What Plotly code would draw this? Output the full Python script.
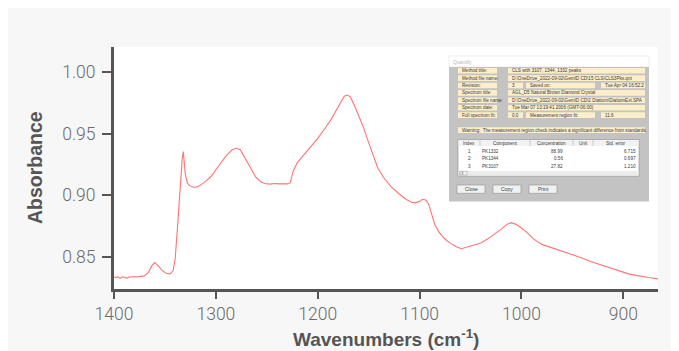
import plotly.graph_objects as go

# ---------------- data ----------------
wavenumbers = [1400, 1398, 1396, 1394, 1392, 1390, 1387, 1385, 1380, 1375, 1370, 1366, 1363, 1360,
               1357, 1353, 1349, 1345, 1342, 1340, 1338, 1336, 1334.5, 1333, 1332, 1331, 1330, 1328,
               1326, 1322, 1318, 1312, 1305, 1298, 1290, 1284, 1280, 1276, 1271, 1266, 1261, 1256,
               1252, 1247, 1242, 1238, 1234, 1230, 1227, 1224, 1220, 1215, 1208, 1200, 1192, 1187,
               1182, 1177, 1174, 1171, 1168, 1164, 1160, 1155, 1151, 1146, 1141, 1135, 1128, 1120,
               1113, 1108, 1104, 1100, 1097, 1094, 1091, 1088, 1085, 1081, 1076, 1070, 1064, 1059,
               1053, 1046, 1040, 1033, 1026, 1019, 1014, 1010, 1006, 1002, 995, 988, 980, 972, 965,
               957, 948, 940, 932, 922, 912, 903, 895, 889, 882, 875, 866]
absorbance = [0.8335, 0.8330, 0.8338, 0.8322, 0.8336, 0.8333, 0.8326, 0.8335, 0.8336, 0.8338, 0.8345,
              0.8375, 0.8425, 0.8452, 0.8430, 0.8390, 0.8365, 0.8360, 0.8385, 0.8480, 0.8700, 0.8950,
              0.9150, 0.9300, 0.9355, 0.9280, 0.9170, 0.9100, 0.9078, 0.9065, 0.9068, 0.9100, 0.9150,
              0.9230, 0.9320, 0.9370, 0.9382, 0.9370, 0.9300, 0.9220, 0.9150, 0.9110, 0.9095, 0.9090,
              0.9095, 0.9092, 0.9090, 0.9092, 0.9100, 0.9200, 0.9265, 0.9315, 0.9380, 0.9463, 0.9555,
              0.9615, 0.9690, 0.9770, 0.9805, 0.9815, 0.9800, 0.9730, 0.9650, 0.9550, 0.9450, 0.9330,
              0.9220, 0.9140, 0.9070, 0.9010, 0.8965, 0.8943, 0.8938, 0.8950, 0.8966, 0.8962, 0.8925,
              0.8840, 0.8760, 0.8700, 0.8650, 0.8610, 0.8580, 0.8565, 0.8580, 0.8598, 0.8612, 0.8645,
              0.8685, 0.8730, 0.8765, 0.8777, 0.8765, 0.8745, 0.8700, 0.8643, 0.8600, 0.8578, 0.8560,
              0.8540, 0.8514, 0.8488, 0.8460, 0.8432, 0.8405, 0.8378, 0.8360, 0.8350, 0.8338, 0.8330,
              0.8319]

x_ticks = [1400, 1300, 1200, 1100, 1000, 900]
y_ticks = [0.85, 0.90, 0.95, 1.00]

# inset dialog ("Quantify") texts
dialog_title = "Quantify"
field_labels = ["Method title:", "Method file name:", "Revision:", "Spectrum title:",
                "Spectrum file name:", "Spectrum date:", "Full spectrum fit:"]
field_values = ["CLS with 3107, 1344, 1332 peaks",
                "D:\\OneDrive_2022-09-02\\GemID CD\\15 CLS\\CLS3Pks.qnt",
                None,
                "AGL_D5 Natural Brown Diamond Crystal",
                "D:\\OneDrive_2022-09-02\\GemID CD\\2 Diattom\\DiattomExt.SPA",
                "Tue Mar 07 13:19:41 2006 (GMT-06:00)",
                None]
revision_parts = ["3", "Saved on:", "Tue Apr 04 16:52:2"]
fit_parts = ["0.0", "Measurement region fit:", "11.6"]
warning_text = "Warning:  The measurement region check indicates a significant difference from standards."
table_headers = ["Index", "Component", "Concentration", "Unit", "Std. error"]
table_index = ["1", "2", "3"]
table_component = ["PK1332", "PK1344", "PK3107"]
table_conc = ["88.99", "0.56", "27.82"]
table_err = ["6.715", "0.697", "1.210"]
button_labels = ["Close", "Copy", "Print"]

# ---------------- figure ----------------
W, H = 679, 351
OFF = 8                      # page body margin: figure drawn from (8, 8) on screen
S_L, S_T, S_R, S_B = 114, 47, 658, 289   # plot area on screen
ML, MT = S_L - OFF, S_T - OFF
MR, MB = W - (S_R - OFF), H - (S_B - OFF)
PW, PH = S_R - S_L, S_B - S_T


def px(x):
    return (x - S_L) / PW


def py(y):
    return (S_B - y) / PH


fig = go.Figure()
fig.add_trace(go.Scatter(x=wavenumbers, y=absorbance, mode="lines",
                         line=dict(color="#ff7474", width=1.1), hoverinfo="skip",
                         showlegend=False))

shapes = []
annotations = []


def rect(x0, y0, x1, y1, fill, line="rgba(0,0,0,0)", lw=0):
    shapes.append(dict(type="rect", xref="paper", yref="paper", x0=px(x0), x1=px(x1),
                       y0=py(y1), y1=py(y0), fillcolor=fill, line=dict(color=line, width=lw)))


def text(x, y, s, anchor="left", size=4.6, color="#3a3a3a"):
    annotations.append(dict(xref="paper", yref="paper", x=px(x), y=py(y), text=s, showarrow=False,
                            xanchor=anchor, yanchor="middle",
                            font=dict(family="Liberation Sans Narrow, Liberation Sans", size=size,
                                      color=color)))


# dialog frame
rect(449, 56, 649, 67, "white", "#e2e2e2", 0.6)
text(451, 61.7, dialog_title, size=5, color="#b8b8b8")
rect(449, 67, 649, 201.5, "#c3c3c3")

FIELD = "#fbeec8"
row_y = [70.7, 78.1, 85.5, 92.9, 100.3, 107.7, 115.1]
for i, lab in enumerate(field_labels):
    yc = row_y[i]
    rect(458, yc - 2.8, 497, yc + 2.8, FIELD)
    text(460, yc, lab)
    if field_values[i] is not None:
        rect(508, yc - 2.8, 645, yc + 2.8, FIELD)
        text(510, yc, field_values[i])
    else:
        parts = revision_parts if i == 2 else fit_parts
        rect(508, yc - 2.8, 523, yc + 2.8, FIELD)
        text(510, yc, parts[0])
        rect(526, yc - 2.8, 595, yc + 2.8, FIELD)
        text(528, yc, parts[1])
        rect(601, yc - 2.8, 645, yc + 2.8, FIELD)
        text(603, yc, parts[2])

rect(458, 127.2, 645, 133.0, FIELD)
text(460, 130.1, warning_text)

# table
rect(458, 139.5, 639, 176, "white", "#8a8a8a", 0.6)
rect(458.5, 140, 638.5, 146, "#f2f2f2")
col_edges = [458, 480, 530, 573, 593, 639]
for ce in col_edges[1:-1]:
    shapes.append(dict(type="line", xref="paper", yref="paper", x0=px(ce), x1=px(ce),
                       y0=py(146), y1=py(140), line=dict(color="#b0b0b0", width=0.6)))
for j, hd in enumerate(table_headers):
    text((col_edges[j] + col_edges[j + 1]) / 2, 143, hd, anchor="center")
trow_y = [151, 158.5, 166]
for k in range(3):
    text(469, trow_y[k], table_index[k], anchor="center")
    text(480, trow_y[k], table_component[k])
    text(565, trow_y[k], table_conc[k], anchor="right")
    text(638, trow_y[k], table_err[k], anchor="right")
rect(458.5, 171, 638.5, 175.5, "#ececec")
rect(459.5, 171.4, 462.5, 175.1, "#dcdcdc", "#888", 0.4)
rect(463, 171.4, 467, 175.1, "#f4f4f4", "#888", 0.4)

# buttons
btn_x = [(457, 485), (493, 521), (529, 557)]
for (bx0, bx1), bl in zip(btn_x, button_labels):
    rect(bx0, 185, bx1, 193.3, "#f1f1f1", "#8f8f8f", 0.6)
    text((bx0 + bx1) / 2, 189.2, bl, anchor="center", size=5)

# axis titles
annotations.append(dict(xref="paper", yref="paper", x=px(386), y=py(338),
                        text="<b>Wavenumbers (cm<sup>-1</sup>)</b>", showarrow=False,
                        xanchor="center", yanchor="middle",
                        font=dict(family="Liberation Sans", size=19, color="#555")))
annotations.append(dict(xref="paper", yref="paper", x=px(35), y=py(168),
                        text="<b>Absorbance</b>", showarrow=False, textangle=-90,
                        xanchor="center", yanchor="middle",
                        font=dict(family="Liberation Sans", size=19.5, color="#555")))

fig.update_layout(
    width=W, height=H,
    margin=dict(l=ML, r=MR, t=MT, b=MB, pad=0),
    paper_bgcolor="#f7f7f7",
    plot_bgcolor="white",
    shapes=shapes,
    annotations=annotations,
    xaxis=dict(range=[1400, 866], tickvals=x_ticks, ticktext=[str(v) for v in x_ticks],
               ticks="outside", ticklen=7, tickwidth=2, tickcolor="#555",
               showline=True, linecolor="#555", linewidth=3, showgrid=False, zeroline=False,
               tickfont=dict(family="Roboto", size=17.5, color="#6a6a6a", weight=300)),
    yaxis=dict(range=[0.8237, 1.0206], tickvals=y_ticks, ticktext=[f"{v:.2f}" for v in y_ticks],
               ticks="outside", ticklen=9, tickwidth=2, tickcolor="#555", ticklabelstandoff=3,
               showline=True, linecolor="#555", linewidth=3, showgrid=False, zeroline=False,
               tickfont=dict(family="Roboto", size=17.5, color="#6a6a6a", weight=300)),
)

fig.write_html("out.html")
